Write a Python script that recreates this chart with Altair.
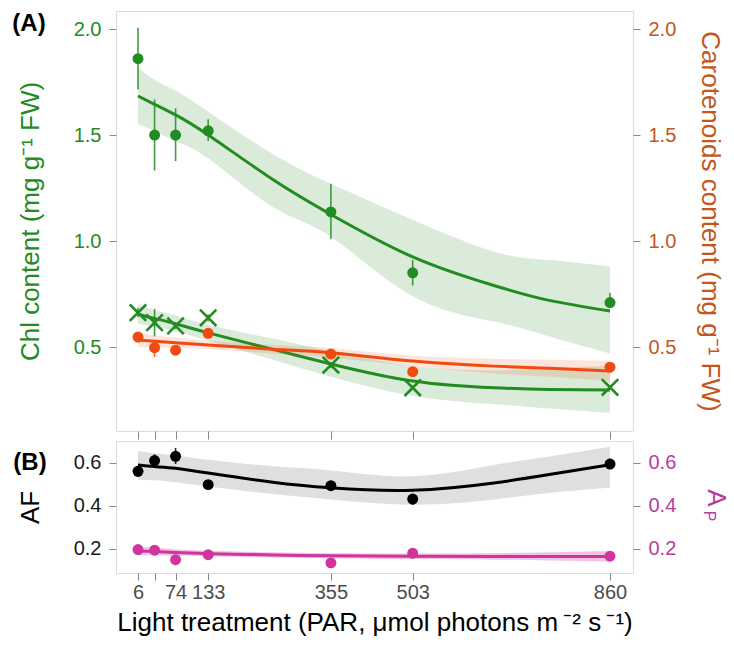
import altair as alt
import pandas as pd

# PAR levels of the light treatments
par = [6, 36, 74, 133, 355, 503, 860]
par_ticks = [6, 36, 74, 133, 355, 503, 860]

# (A) chlorophyll, circles: means and error-bar limits
chl_circle = [1.86, 1.50, 1.50, 1.52, 1.137, 0.85, 0.71]
chl_circle_lo = [1.716, 1.333, 1.377, 1.472, 1.01, 0.79, 0.685]
chl_circle_hi = [2.006, 1.668, 1.626, 1.574, 1.27, 0.91, 0.756]

# (A) chlorophyll, crosses
chl_cross = [0.662, 0.615, 0.60, 0.638, 0.415, 0.308, 0.31]
chl_cross_lo = [0.64, 0.55, 0.585, 0.62, 0.40, 0.298, 0.30]
chl_cross_hi = [0.685, 0.68, 0.615, 0.655, 0.43, 0.318, 0.32]

# (A) carotenoids
carot = [0.547, 0.497, 0.485, 0.565, 0.467, 0.384, 0.405]
carot_lo = [0.54, 0.453, 0.475, 0.555, 0.455, 0.375, 0.395]
carot_hi = [0.555, 0.52, 0.495, 0.575, 0.49, 0.395, 0.43]

# (B) AF and Ap
af = [0.561, 0.611, 0.631, 0.499, 0.494, 0.432, 0.595]
af_lo = [0.535, 0.585, 0.595, 0.48, 0.47, 0.405, 0.575]
af_hi = [0.585, 0.64, 0.67, 0.515, 0.515, 0.455, 0.62]
ap = [0.197, 0.194, 0.15, 0.173, 0.135, 0.18, 0.166]
ap_lo = [0.19, 0.187, 0.143, 0.166, 0.128, 0.173, 0.159]
ap_hi = [0.204, 0.201, 0.157, 0.18, 0.142, 0.187, 0.173]

# fitted curves with confidence bands
fit_par = [6, 36, 74, 133, 250, 355, 503, 650, 750, 860]
circle_fit = [1.684, 1.645, 1.595, 1.50, 1.29, 1.125, 0.925, 0.79, 0.72, 0.67]
circle_fit_lo = [1.55, 1.52, 1.47, 1.39, 1.16, 1.02, 0.74, 0.62, 0.55, 0.47]
circle_fit_hi = [1.82, 1.76, 1.71, 1.61, 1.41, 1.27, 1.10, 0.95, 0.91, 0.88]
cross_fit = [0.655, 0.635, 0.61, 0.567, 0.489, 0.42, 0.34, 0.308, 0.30, 0.297]
cross_fit_lo = [0.61, 0.595, 0.575, 0.53, 0.44, 0.36, 0.27, 0.23, 0.21, 0.19]
cross_fit_hi = [0.70, 0.675, 0.65, 0.605, 0.54, 0.48, 0.41, 0.39, 0.40, 0.41]
carot_fit = [0.533, 0.527, 0.52, 0.51, 0.49, 0.473, 0.434, 0.41, 0.40, 0.387]
carot_fit_lo = [0.50, 0.50, 0.495, 0.49, 0.47, 0.45, 0.41, 0.375, 0.36, 0.34]
carot_fit_hi = [0.57, 0.555, 0.545, 0.53, 0.51, 0.495, 0.46, 0.445, 0.44, 0.435]
af_fit = [0.59, 0.583, 0.575, 0.553, 0.51, 0.484, 0.473, 0.507, 0.546, 0.592]
af_fit_lo = [0.522, 0.52, 0.51, 0.49, 0.455, 0.43, 0.406, 0.43, 0.46, 0.484]
af_fit_hi = [0.655, 0.645, 0.635, 0.615, 0.585, 0.565, 0.538, 0.59, 0.63, 0.675]
ap_fit = [0.19, 0.188, 0.183, 0.178, 0.172, 0.168, 0.166, 0.165, 0.165, 0.165]
ap_fit_lo = [0.17, 0.171, 0.168, 0.165, 0.16, 0.156, 0.153, 0.15, 0.146, 0.14]
ap_fit_hi = [0.21, 0.205, 0.198, 0.191, 0.184, 0.18, 0.179, 0.18, 0.184, 0.19]

FONT = "Liberation Sans"
GREEN = "#228B22"
ORANGE = "#F04A10"
ORANGE_TXT = "#C4561E"
PINK = "#D0359E"
PINK_TXT = "#B83C9C"
GREY_TXT = "#4D4D4D"
TITLE_SIZE = 26
W = 517
H_TOP = 420
H_BOT = 132


def frame(values, lo, hi):
    return pd.DataFrame({"par": par if len(values) == len(par) else fit_par,
                         "v": values, "lo": lo, "hi": hi})


xscale = alt.Scale(domain=[-33.8, 901.6], nice=False, zero=False)
x_top = alt.X("par:Q", scale=xscale,
              axis=alt.Axis(values=par_ticks, labels=False, title=None, ticks=True,
                            tickSize=8, domain=False, grid=False))
x_bot = alt.X("par:Q", scale=xscale,
              axis=alt.Axis(values=par_ticks,
                            title="Light treatment (PAR, \u03bcmol photons m\u2009\u207b\u00b2 s\u2009\u207b\u00b9)",
                            labelExpr="datum.value == 36 ? '' : datum.label",
                            tickSize=7, domain=False, grid=False, labelColor=GREY_TXT,
                            labelFontSize=20, titleFontSize=TITLE_SIZE, labelPadding=2,
                            titlePadding=7, titleFontWeight="normal", titleColor="black"))


def yaxis(orient, title, color, values, title_color=None):
    return alt.Axis(orient=orient, values=values, format=".1f", tickSize=7, domain=False,
                    grid=False, labelColor=color, labelFontSize=20, labelPadding=8,
                    title=title if title is not None else "",
                    titleFontSize=TITLE_SIZE, titleFontWeight="normal",
                    titleColor=title_color or color,
                    titlePadding=30 if orient == "left" else 21)


def group(x, yscale, axis, values, lo, hi, fit, fit_lo, fit_hi, color, band_color, band_op,
          shape="circle", size=120):
    pts = frame(values, lo, hi)
    fits = frame(fit, fit_lo, fit_hi)
    y = lambda f: alt.Y(f, scale=yscale, axis=axis)
    band = alt.Chart(fits).mark_area(color=band_color, opacity=band_op,
                                     interpolate="natural").encode(
        x=x, y=y("lo:Q"), y2="hi:Q")
    line = alt.Chart(fits).mark_line(color=color, strokeWidth=3,
                                     interpolate="natural").encode(x=x, y=y("v:Q"))
    bars = alt.Chart(pts).mark_rule(color=color, strokeWidth=1.6, opacity=0.85).encode(
        x=x, y=y("lo:Q"), y2="hi:Q")
    if shape == "x":
        dots = alt.Chart(pts).mark_point(shape="M-1,-1L1,1M1,-1L-1,1", filled=False,
                                         color=color, strokeWidth=2.6, size=size,
                                         opacity=1).encode(x=x, y=y("v:Q"))
    else:
        dots = alt.Chart(pts).mark_point(shape="circle", filled=True, color=color,
                                         size=size, opacity=1).encode(x=x, y=y("v:Q"))
    return band, line, bars, dots


# ---- panel (A) ----
ys_top = alt.Scale(domain=[0.104, 2.085], nice=False, zero=False)
left_axis_a = yaxis("left", "Chl content (mg g\u207b\u00b9 FW)", GREEN, [0.5, 1.0, 1.5, 2.0])
right_axis_a = yaxis("right", "Carotenoids content (mg g\u207b\u00b9 FW)", ORANGE_TXT,
                     [0.5, 1.0, 1.5, 2.0])

c_band, c_line, c_bars, c_dots = group(x_top, ys_top, left_axis_a, chl_circle, chl_circle_lo,
                                       chl_circle_hi, circle_fit, circle_fit_lo, circle_fit_hi,
                                       GREEN, GREEN, 0.17)
x_band, x_line, x_bars, x_dots = group(x_top, ys_top, left_axis_a, chl_cross, chl_cross_lo,
                                       chl_cross_hi, cross_fit, cross_fit_lo, cross_fit_hi,
                                       GREEN, GREEN, 0.17, shape="x", size=270)
o_band, o_line, o_bars, o_dots = group(x_top, ys_top, right_axis_a, carot, carot_lo, carot_hi,
                                       carot_fit, carot_fit_lo, carot_fit_hi, ORANGE, ORANGE, 0.15)

label_a = alt.Chart(pd.DataFrame({"t": ["(A)"]})).mark_text(
    font=FONT, fontSize=24, fontWeight="bold", color="black").encode(
    x=alt.value(-87), y=alt.value(13), text="t:N")

left_a = alt.layer(c_band, x_band, c_line, x_line, c_bars, x_bars, c_dots, x_dots, label_a)
right_a = alt.layer(o_band, o_line, o_bars, o_dots)
panel_a = alt.layer(left_a, right_a).resolve_scale(y="independent").properties(
    width=W, height=H_TOP)

# ---- panel (B) ----
ys_bot = alt.Scale(domain=[0.088, 0.702], nice=False, zero=False)
left_axis_b = yaxis("left", "AF", "#1A1A1A", [0.2, 0.4, 0.6], title_color="black")
right_axis_b = yaxis("right", None, PINK_TXT, [0.2, 0.4, 0.6])

a_band, a_line, a_bars, a_dots = group(x_bot, ys_bot, left_axis_b, af, af_lo, af_hi,
                                       af_fit, af_fit_lo, af_fit_hi, "black", "#8C8C8C", 0.28)
p_band, p_line, p_bars, p_dots = group(x_bot, ys_bot, right_axis_b, ap, ap_lo, ap_hi,
                                       ap_fit, ap_fit_lo, ap_fit_hi, PINK, PINK, 0.3)

label_b = alt.Chart(pd.DataFrame({"t": ["(B)"]})).mark_text(
    font=FONT, fontSize=24, fontWeight="bold", color="black").encode(
    x=alt.value(-86), y=alt.value(22), text="t:N")

# right-hand title A with subscript P, set as rotated text
ap_main = alt.Chart(pd.DataFrame({"t": ["A"]})).mark_text(
    font=FONT, fontSize=TITLE_SIZE, angle=90, color=PINK_TXT).encode(
    x=alt.value(600), y=alt.value(57), text="t:N")
ap_sub = alt.Chart(pd.DataFrame({"t": ["P"]})).mark_text(
    font=FONT, fontSize=16, angle=90, color=PINK_TXT).encode(
    x=alt.value(593), y=alt.value(75), text="t:N")

left_b = alt.layer(a_band, a_line, a_bars, a_dots, label_b)
right_b = alt.layer(p_band, p_line, p_bars, p_dots, ap_main, ap_sub)
panel_b = alt.layer(left_b, right_b).resolve_scale(y="independent").properties(
    width=W, height=H_BOT)

chart = alt.vconcat(panel_a, panel_b, spacing=0).configure_view(
    stroke="#333333", strokeWidth=1.3
).configure_axis(
    labelFont=FONT, titleFont=FONT, tickColor="#333333", tickWidth=1.3
).configure(padding={"left": 11, "top": 10, "right": 2, "bottom": 2})

chart.save("out.html", embed_options={"renderer": "svg", "actions": False})
